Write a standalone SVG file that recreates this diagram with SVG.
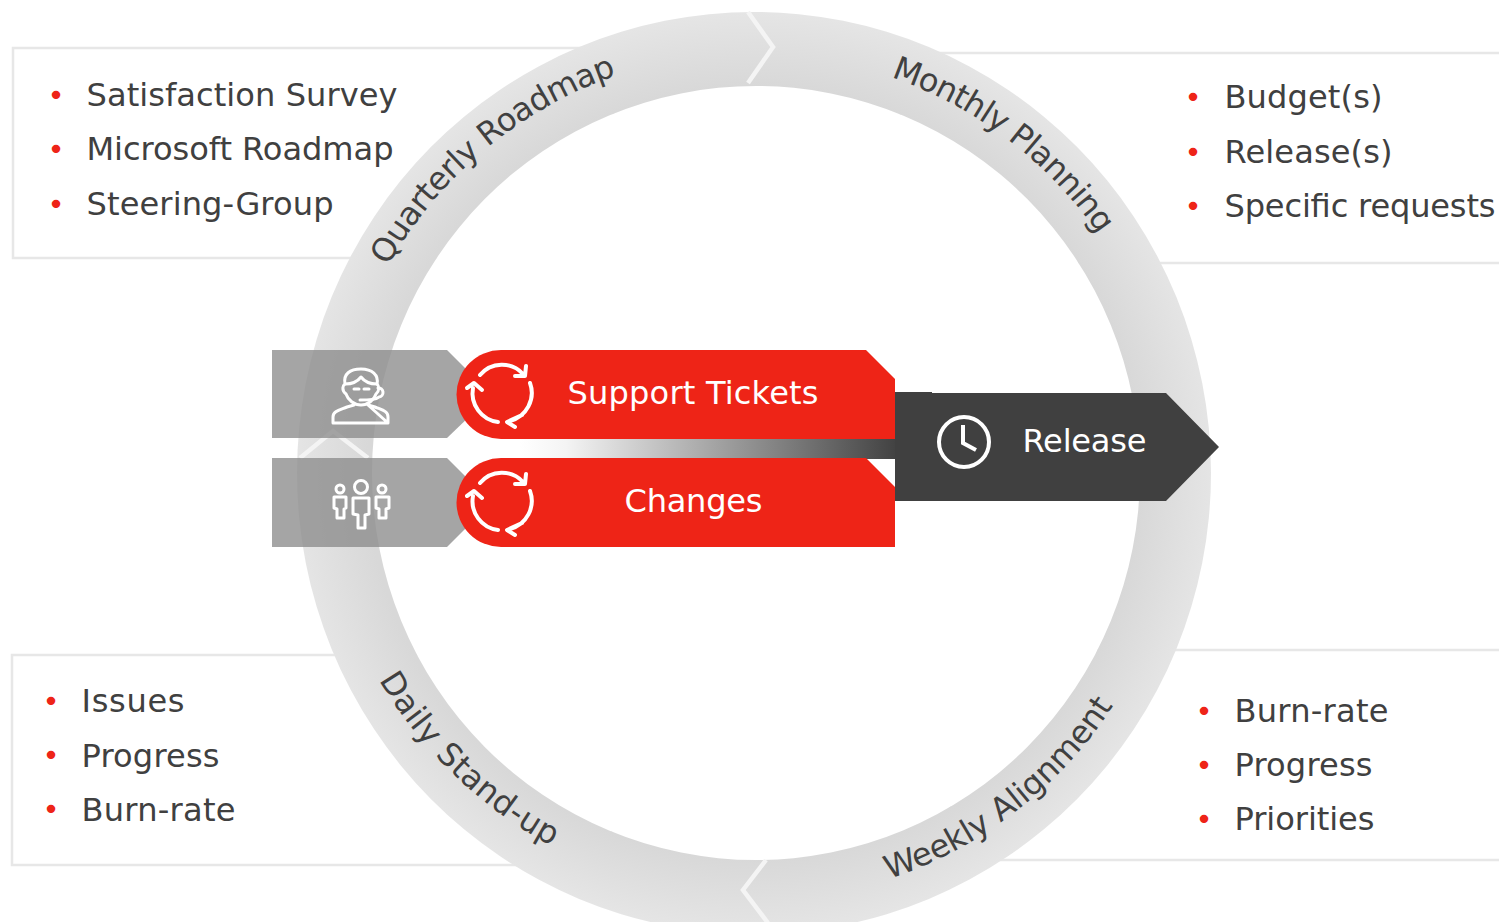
<svg xmlns="http://www.w3.org/2000/svg" width="1499" height="922" viewBox="0 0 1499 922">
<style>
.box{fill:#fff;stroke:#e7e7e7;stroke-width:2.5}
.t{font-family:"DejaVu Sans",Verdana,sans-serif;font-size:32.1px;fill:#404040}
.b{font-family:"DejaVu Sans",Verdana,sans-serif;font-size:29px;fill:#ee2417}
.w{font-family:"DejaVu Sans",Verdana,sans-serif;font-size:32.1px;fill:#fff}
.r{font-family:"DejaVu Sans",Verdana,sans-serif;font-size:32.1px;fill:#404040}
.ic{fill:none;stroke:#fff;stroke-width:3;stroke-linecap:round;stroke-linejoin:round}
.cy{fill:none;stroke:#fff;stroke-width:4;stroke-linecap:round;stroke-linejoin:round}
.ch{fill:none;stroke:#f4f4f4;stroke-width:4.5}
</style>
<defs>
<radialGradient id="ring" gradientUnits="userSpaceOnUse" cx="754" cy="473" r="460">
<stop offset="0.84" stop-color="#d8d8d8"/><stop offset="1" stop-color="#e5e5e5"/>
</radialGradient>
<linearGradient id="mid" x1="0" x2="1" y1="0" y2="0">
<stop offset="0" stop-color="#fff"/><stop offset="0.12" stop-color="#f4f4f4"/><stop offset="1" stop-color="#404040"/>
</linearGradient>
<path id="pQ" d="M 388 266 A 421 421 0 0 1 754 52"/>
<path id="pM" d="M 891 77 A 419 419 0 0 1 1173 473"/>
<path id="pW" d="M 889 879 A 428 428 0 0 0 1182 473"/>
<path id="pD" d="M 379 680 A 450 450 0 0 0 557 849 L 640 890"/>
<g id="cycle">
<path class="cy" d="M480 375 A28.500 28.500 0 0 1 523 374 M526 366 L525 376 L515 376"/>
<path class="cy" d="M530 383 A29 29 0 0 1 510 421 M522 415 L507 422 L515 427"/>
<path class="cy" d="M498 422 A29 29 0 0 1 473 388 M467 388 L474 383 L482 390"/>
</g>
</defs>

<g id="box-quarterly"><rect class="box" x="13" y="48" width="600" height="210"/>
<g class="b"><text x="47.500" y="105">•</text><text x="47.500" y="159">•</text><text x="47.500" y="214">•</text></g>
<text class="t" x="86.500" y="106" textLength="311">Satisfaction Survey</text><text class="t" x="86.500" y="160" textLength="307">Microsoft Roadmap</text><text class="t" x="86.500" y="215" textLength="247">Steering-Group</text></g>

<g id="box-monthly"><rect class="box" x="900" y="53" width="640" height="210"/>
<g class="b"><text x="1184.500" y="107">•</text><text x="1184.500" y="162">•</text><text x="1184.500" y="216">•</text></g>
<text class="t" x="1224.500" y="108" textLength="158">Budget(s)</text><text class="t" x="1224.500" y="163" textLength="168">Release(s)</text><text class="t" x="1224.500" y="217" textLength="271">Specific requests</text></g>

<g id="box-daily"><rect class="box" x="12" y="655" width="600" height="210"/>
<g class="b"><text x="42.500" y="711">•</text><text x="42.500" y="765">•</text><text x="42.500" y="819">•</text></g>
<text class="t" x="81.500" y="712" textLength="103">Issues</text><text class="t" x="81.500" y="767" textLength="138">Progress</text><text class="t" x="81.500" y="821" textLength="154">Burn-rate</text></g>

<g id="box-weekly"><rect class="box" x="950" y="650" width="590" height="210"/>
<g class="b"><text x="1195.500" y="721">•</text><text x="1195.500" y="775">•</text><text x="1195.500" y="829">•</text></g>
<text class="t" x="1234.500" y="722" textLength="154">Burn-rate</text><text class="t" x="1234.500" y="776" textLength="138">Progress</text><text class="t" x="1234.500" y="830" textLength="140">Priorities</text></g>

<g id="ring-cycle">
<ellipse cx="756" cy="473" rx="384" ry="387" fill="#fff"/>
<path fill="url(#ring)" fill-rule="evenodd" d="M297 473 A457 461 0 1 1 1211 473 A457 461 0 1 1 297 473 Z M372 473 A384 387 0 1 0 1140 473 A384 387 0 1 0 372 473 Z"/>
<path class="ch" d="M748 12 L773 47 L748 83"/>
<path class="ch" d="M766 860 L743 890 L768 923"/>
<path class="ch" d="M300 458 L333 431 L368 458"/>
<text class="r" letter-spacing="-0.6"><textPath href="#pQ">Quarterly Roadmap</textPath></text>
<text class="r" letter-spacing="-0.8"><textPath href="#pM">Monthly Planning</textPath></text>
<text class="r" letter-spacing="-0.1"><textPath href="#pW">Weekly Alignment</textPath></text>
<text class="r" letter-spacing="0.4"><textPath href="#pD">Daily Stand-up</textPath></text>
</g>

<g id="connectors">
<rect x="520" y="439" width="380" height="20" fill="url(#mid)"/>
</g>

<g id="node-support-icon">
<path fill="#8c8c8c" fill-opacity="0.78" d="M272 350 H447 L472 375 V414 L447 438 H272 Z"/>
<g class="ic"><path d="M346 394 C341 390 343 385 345 384 C343 374 350 369 361 369 C372 369 379 375 377 384 C379 386 380 390 376 394 C374 400 368 405 361 405 C354 405 348 400 346 394 Z"/><path d="M345 384 C352 384 358 381 361 377 C364 381 370 384 377 384"/><path d="M354 389 h5 M364 389 h5"/><path d="M378 388 a4.500 4.500 0 0 1 1 9 M379 397 C376 400 368 400 360 400"/><path d="M333 423 V417 C333 411 340 410 347 407 L354 405 M368 405 L375 407 C382 410 388 411 388 417 V423 Z M333 423 H388"/></g>
</g>
<g id="node-changes-icon">
<path fill="#8c8c8c" fill-opacity="0.78" d="M272 458 H447 L472 483 V522 L447 547 H272 Z"/>
<g class="ic"><circle cx="361" cy="487" r="6.500"/><circle cx="340" cy="489" r="4"/><circle cx="382" cy="489" r="4"/><path d="M353 498 H369 V514 L365 515 V528 H358 V515 L353 514 Z"/><path d="M334 497 H346 V508 L344 509 V518 H337 V509 L334 508 Z"/><path d="M376 497 H389 V508 L386 509 V518 H379 V509 L376 508 Z"/></g>
</g>

<g id="node-release">
<path fill="#404040" d="M895 392 H932 V393 H1166 L1219 447 L1166 501 H895 Z"/>
<circle cx="964" cy="442" r="25" fill="none" stroke="#fff" stroke-width="4"/>
<path d="M963 425 V443 L976 450" fill="none" stroke="#fff" stroke-width="4"/>
<text class="w" x="1022.500" y="452" textLength="124">Release</text>
</g>

<g id="node-support">
<path fill="#ee2417" d="M501 350 H866 L895 379 V439 H501 A44.500 44.500 0 0 1 501 350 Z"/>
<use href="#cycle"/>
<text class="w" x="567.500" y="404" textLength="251">Support Tickets</text>
</g>
<g id="node-changes">
<path fill="#ee2417" d="M501 458 H866 L895 487 V547 H501 A44.500 44.500 0 0 1 501 458 Z"/>
<use href="#cycle" y="108"/>
<text class="w" x="624.500" y="512" textLength="138">Changes</text>
</g>
</svg>
